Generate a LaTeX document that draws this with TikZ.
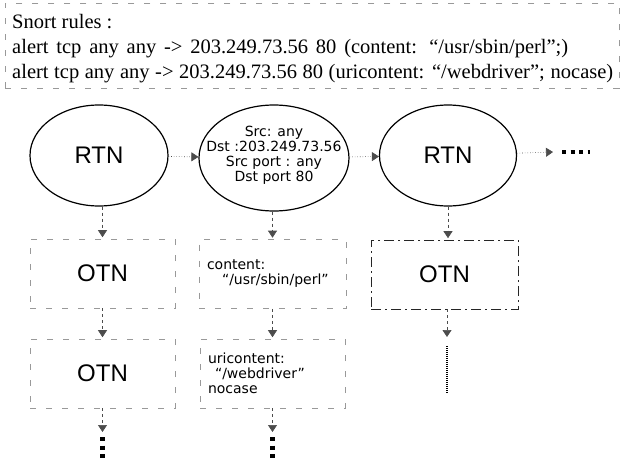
\documentclass[tikz,border=0pt]{standalone}
\usepackage{fontspec}
\setmainfont{Liberation Serif}
\setsansfont{Liberation Sans}
\newfontfamily\smallsans{DejaVu Sans}
\usetikzlibrary{arrows.meta,shapes.geometric}
\begin{document}
\begin{tikzpicture}[x=1pt,y=-1pt,
  oval/.style={draw, line width=1.2pt, ellipse, inner sep=0pt},
  big/.style={font=\sffamily\fontsize{24}{24}\selectfont},
  small/.style={font=\smallsans\fontsize{14}{15}\selectfont},
  serifline/.style={anchor=base west, inner sep=0pt, font=\fontsize{20.5}{20.5}\selectfont},
  faintbox/.style={draw=black!40, line width=0.6pt, dash pattern=on 6pt off 10pt, inner sep=0pt},
  darkbox/.style={draw=black!85, line width=0.7pt, dash pattern=on 10pt off 4pt on 2pt off 4pt, inner sep=0pt},
  tip/.style={-{Triangle[width=9pt,length=7pt]}},
  hflow/.style={tip, draw=black!70, line width=0.6pt, dotted},
  vflow/.style={tip, draw=black!70, line width=0.6pt, dashed},
  squaredots/.style={line width=4.5pt, dash pattern=on 4pt off 4.5pt},
  finedots/.style={line width=2pt, dash pattern=on 1pt off 1pt},
]
\useasboundingbox (0,0) rectangle (622,466);

% rules box
\node[faintbox, anchor=north west, minimum width=614pt, minimum height=85pt] (rules) at (5,3) {};
\node[serifline] (l1) at (12,28) {Snort rules :};
\node[serifline] (l2) at (12,53) {\makebox[556pt][s]{alert tcp any any -> 203.249.73.56 80 (content: “/usr/sbin/perl”;)}};
\node[serifline] (l3) at (12,78) {\makebox[601pt][s]{alert tcp any any -> 203.249.73.56 80 (uricontent: “/webdriver”; nocase)}};

% RTN row
\node[oval, big, minimum width=138pt, minimum height=101pt] (e1) at (99,155.5) {RTN};
\node[oval, minimum width=150pt, minimum height=106pt] (e2) at (274,158) {};
\node[small, align=center, inner sep=0pt] (e2t) at (274,155.5) {Src: any\\Dst :203.249.73.56\\Src port : any\\Dst port 80};
\node[oval, big, minimum width=137pt, minimum height=101pt] (e3) at (448,155.5) {RTN};
\coordinate (moretip) at (553,152);
\coordinate (moreA) at (562,152);
\coordinate (moreB) at (590,152);

\draw[hflow] (e1) -- (e2);
\draw[hflow] (e2) -- (e3);
\draw[hflow] (e3) -- (moretip);
\draw[squaredots] (moreA) -- (moreB);

% OTN row 1
\node[faintbox, big, minimum width=145pt, minimum height=69pt] (o1) at (102.5,273.5) {OTN};
\node[faintbox, small, align=left, text width=131pt, inner xsep=8pt, minimum width=147pt, minimum height=69pt] (c1) at (272.5,274) {content:\\\hspace*{15pt}“/usr/sbin/perl”};
\node[darkbox, big, minimum width=147pt, minimum height=69pt] (o3) at (444.5,274.5) {OTN};

% OTN row 2
\node[faintbox, big, minimum width=145pt, minimum height=69pt] (o2) at (102.5,373.5) {OTN};
\node[faintbox, small, align=left, text width=129pt, inner xsep=8pt, minimum width=145pt, minimum height=69pt] (c2) at (272.5,373.5) {uricontent:\\\hspace*{7pt}“/webdriver”\\nocase};

% vertical connectors
\draw[vflow, shorten >=1.5pt] (e1.south -| o1) -- (o1.north);
\draw[vflow, shorten >=1.5pt] (e2.south -| c1) -- (c1.north);
\draw[vflow, shorten >=1.5pt] (e3.south) -- (e3.south |- o3.north);
\draw[vflow, shorten >=1.5pt] (o1) -- (o2);
\draw[vflow, shorten >=1.5pt] (c1) -- (c2);

\coordinate (d1) at (102.5,432);
\coordinate (d2) at (272.5,432);
\coordinate (d3) at (447,337);
\draw[vflow] (o2) -- (d1);
\draw[vflow] (c2) -- (d2);
\draw[vflow] (o3.south -| d3) -- (d3);

\coordinate (s1a) at (102.5,437);
\coordinate (s1b) at (102.5,458);
\coordinate (s2a) at (272.5,437);
\coordinate (s2b) at (272.5,458);
\coordinate (s3a) at (447,346);
\coordinate (s3b) at (447,394);
\draw[squaredots] (s1a) -- (s1b);
\draw[squaredots] (s2a) -- (s2b);
\draw[finedots] (s3a) -- (s3b);
\end{tikzpicture}
\end{document}
